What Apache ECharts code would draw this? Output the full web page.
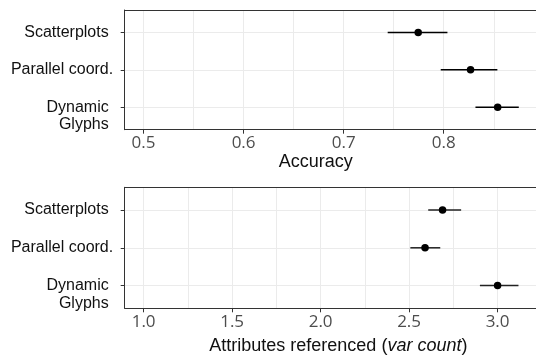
<!DOCTYPE html>
<html><head><meta charset="utf-8">
<script src="https://cdn.jsdelivr.net/npm/echarts@6/dist/echarts.min.js"></script>
<style>html,body{margin:0;padding:0;background:#fff}#c{width:536px;height:360px}</style>
</head><body><div id="c"></div>
<script>
// ---- data ----
const categories = ['Scatterplots', 'Parallel coord.', 'Dynamic\nGlyphs'];
const categoryPositions = [1, 2, 3];
const accuracyMean = [0.7745, 0.8268, 0.8539];
const accuracyLow = [0.744, 0.797, 0.8317];
const accuracyHigh = [0.8037, 0.8536, 0.875];
const attrMean = [2.689, 2.590, 3.000];
const attrLow = [2.608, 2.507, 2.900];
const attrHigh = [2.794, 2.676, 3.118];
const accuracyTicks = [0.5, 0.6, 0.7, 0.8];
const accuracyMinor = [0.55, 0.65, 0.75, 0.85];
const attrTicks = [1.0, 1.5, 2.0, 2.5, 3.0];
const attrMinor = [1.25, 1.75, 2.25, 2.75];

// ---- styling ----
const LABEL_FONT = 'Liberation Sans';
const TICK_FONT = 'Open Sans';
const gridColor = '#ebebeb';
const borderColor = '#333333';

function yLabel(v) {
  const i = Math.round(v) - 1;
  const name = categories[i];
  if (name === undefined) return '';
  const lines = name.split('\n');
  if (lines.length > 1) {
    return '{b| }\n' + lines.map(l => '{p|' + l + '}').join('\n');
  }
  if (name.endsWith('.')) return '{q|' + name + '}';
  return '{p|' + name + '}';
}
const yRich = {
  p: { fontFamily: LABEL_FONT, fontSize: 16, color: '#111', lineHeight: 17.7, padding: [0, 4.5, 0, 0] },
  q: { fontFamily: LABEL_FONT, fontSize: 16, color: '#111', lineHeight: 17.7 },
  b: { fontFamily: LABEL_FONT, fontSize: 16, lineHeight: 17.7 }
};

function mainX(gridIndex, min, max, ticks, name, nameGap, namePadding, rich) {
  return {
    type: 'value', gridIndex: gridIndex, position: 'bottom', min: min, max: max,
    axisLine: { show: true, onZero: false, lineStyle: { color: borderColor, width: 1 } },
    axisTick: { show: true, length: 4, customValues: ticks, lineStyle: { color: borderColor, width: 1 } },
    axisLabel: { customValues: ticks, formatter: v => v.toFixed(1), margin: 5,
      fontFamily: TICK_FONT, fontSize: 17, color: '#4d4d4d' },
    splitLine: { show: true, customValues: ticks, lineStyle: { color: gridColor, width: 1 } },
    name: name, nameLocation: 'middle', nameGap: nameGap,
    nameTextStyle: { fontFamily: LABEL_FONT, fontSize: 18, color: '#111', padding: namePadding, rich: rich || {} }
  };
}
function minorX(gridIndex, min, max, ticks) {
  return {
    type: 'value', gridIndex: gridIndex, position: 'top', min: min, max: max,
    axisLine: { show: true, onZero: false, lineStyle: { color: borderColor, width: 1 } },
    axisTick: { show: false, customValues: ticks },
    axisLabel: { show: false, customValues: ticks },
    splitLine: { show: true, customValues: ticks, lineStyle: { color: gridColor, width: 1 } }
  };
}
function catY(gridIndex) {
  return {
    type: 'value', gridIndex: gridIndex, min: 0.4, max: 3.6, inverse: true,
    axisLine: { show: true, onZero: false, lineStyle: { color: borderColor, width: 1 } },
    axisTick: { show: true, length: 4, customValues: categoryPositions, lineStyle: { color: borderColor, width: 1 } },
    axisLabel: { customValues: categoryPositions, formatter: yLabel, margin: 11.5, align: 'right', rich: yRich },
    splitLine: { show: true, customValues: categoryPositions, lineStyle: { color: gridColor, width: 1 } }
  };
}

function errorSeries(xi, yi, lo, hi, color) {
  return {
    type: 'custom', xAxisIndex: xi, yAxisIndex: yi, z: 3,
    data: categoryPositions.map((p, i) => [lo[i], hi[i], p]),
    encode: { x: [0, 1], y: 2 },
    renderItem: function (params, api) {
      const y = api.value(2);
      const a = api.coord([api.value(0), y]);
      const b = api.coord([api.value(1), y]);
      return { type: 'line', shape: { x1: a[0], y1: a[1], x2: b[0], y2: b[1] },
        style: { stroke: color, lineWidth: 1.5 } };
    },
    silent: true
  };
}
function pointSeries(xi, yi, mean) {
  return {
    type: 'scatter', xAxisIndex: xi, yAxisIndex: yi, z: 5,
    data: categoryPositions.map((p, i) => [mean[i], p]),
    symbol: 'circle', symbolSize: 7.5,
    itemStyle: { color: '#000', opacity: 1 }, silent: true
  };
}

const chart = echarts.init(document.getElementById('c'), null, { renderer: 'canvas' });
chart.setOption({
  backgroundColor: '#fff',
  animation: false,
  grid: [
    { left: 124.7, top: 10, right: -3, height: 119.7 },
    { left: 124.7, top: 187.3, right: -3, height: 121 }
  ],
  xAxis: [
    mainX(0, 0.4812, 0.8922, accuracyTicks, 'Accuracy', 23.5, [0, 29, 0, 0]),
    minorX(0, 0.4812, 0.8922, accuracyMinor),
    mainX(1, 0.893, 3.217, attrTicks, 'Attributes referenced ({i|var count})', 28.5, [0, 0, 0, 16],
      { i: { fontFamily: LABEL_FONT, fontSize: 18, color: '#111', fontStyle: 'italic' } }),
    minorX(1, 0.893, 3.217, attrMinor)
  ],
  yAxis: [catY(0), catY(1)],
  series: [
    errorSeries(0, 0, accuracyLow, accuracyHigh, '#000'),
    pointSeries(0, 0, accuracyMean),
    errorSeries(2, 1, attrLow, attrHigh, '#222'),
    pointSeries(2, 1, attrMean)
  ]
});
</script></body></html>
